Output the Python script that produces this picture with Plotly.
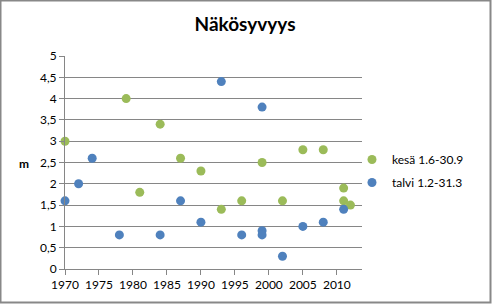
import plotly.graph_objects as go

# kesä 1.6-30.9 (summer)
kesa_years = [1970, 1979, 1981, 1984, 1987, 1990, 1993, 1996, 1999, 2002, 2005, 2008, 2011, 2011, 2012]
kesa_m = [3.0, 4.0, 1.8, 3.4, 2.6, 2.3, 1.4, 1.6, 2.5, 1.6, 2.8, 2.8, 1.9, 1.6, 1.5]

# talvi 1.2-31.3 (winter)
talvi_years = [1970, 1972, 1974, 1978, 1984, 1987, 1990, 1993, 1996, 1999, 1999, 1999, 2002, 2005, 2008, 2011]
talvi_m = [1.6, 2.0, 2.6, 0.8, 0.8, 1.6, 1.1, 4.4, 0.8, 3.8, 0.9, 0.8, 0.3, 1.0, 1.1, 1.4]

series_names = ["kesä 1.6-30.9", "talvi 1.2-31.3"]
x_ticks = [1970, 1975, 1980, 1985, 1990, 1995, 2000, 2005, 2010]
y_ticks = [0, 0.5, 1, 1.5, 2, 2.5, 3, 3.5, 4, 4.5, 5]

GREEN = "#9BBB59"
BLUE = "#4F81BD"
FONT = "Lato"

fig = go.Figure()
fig.add_trace(go.Scatter(x=kesa_years, y=kesa_m, mode="markers", name=series_names[0],
                         legendgroup="k", cliponaxis=False, marker=dict(color=GREEN, size=9)))
fig.add_trace(go.Scatter(x=talvi_years, y=talvi_m, mode="markers", name=series_names[1],
                         legendgroup="t", cliponaxis=False, marker=dict(color=BLUE, size=9)))

W, H = 493, 304
ml, mr, mt, mb = 65, 131, 56, 35
pw, ph = W - ml - mr, H - mt - mb

def px_x(p):
    return (p - ml) / pw

def px_y(p):
    return (H - mb - p) / ph

fig.update_layout(
    width=W, height=H,
    margin=dict(l=ml, r=mr, t=mt, b=mb, pad=0),
    paper_bgcolor="white", plot_bgcolor="white",
    separators=", ",
    font=dict(family=FONT, size=12, color="#000000"),
    title=dict(text="<b>Näkösyvyys</b>", x=0.497, xanchor="center", y=0.92, yanchor="middle",
               font=dict(family=FONT, size=19, color="#000000")),
    showlegend=True,
    legend=dict(x=px_x(352), y=px_y(145), xanchor="left", yanchor="top",
                font=dict(family=FONT, size=12, color="#000000"),
                itemwidth=30, traceorder="grouped", tracegroupgap=4,
                bgcolor="rgba(0,0,0,0)"),
    xaxis=dict(range=[1970, 2013.7], tickvals=x_ticks, showgrid=False, zeroline=False,
               showline=True, linecolor="#868686", linewidth=1,
               ticks="outside", ticklen=5, tickcolor="#868686",
               tickfont=dict(family=FONT, size=12)),
    yaxis=dict(range=[0, 5], tickvals=y_ticks, showgrid=True, gridcolor="#868686", gridwidth=1,
               zeroline=False, showline=True, linecolor="#868686", linewidth=1,
               ticks="outside", ticklen=5, tickcolor="#868686",
               tickfont=dict(family=FONT, size=12)),
    annotations=[dict(text="<b>m</b>", xref="paper", yref="paper", x=px_x(24), y=px_y(163),
                      xanchor="center", yanchor="middle", showarrow=False,
                      font=dict(family=FONT, size=12, color="#000000"))],
    shapes=[dict(type="rect", xref="paper", yref="paper",
                 x0=px_x(0.5), x1=px_x(490.5), y0=px_y(302.5), y1=px_y(0.5),
                 line=dict(color="#888888", width=2), layer="below")],
)

fig.write_html("out.html")
